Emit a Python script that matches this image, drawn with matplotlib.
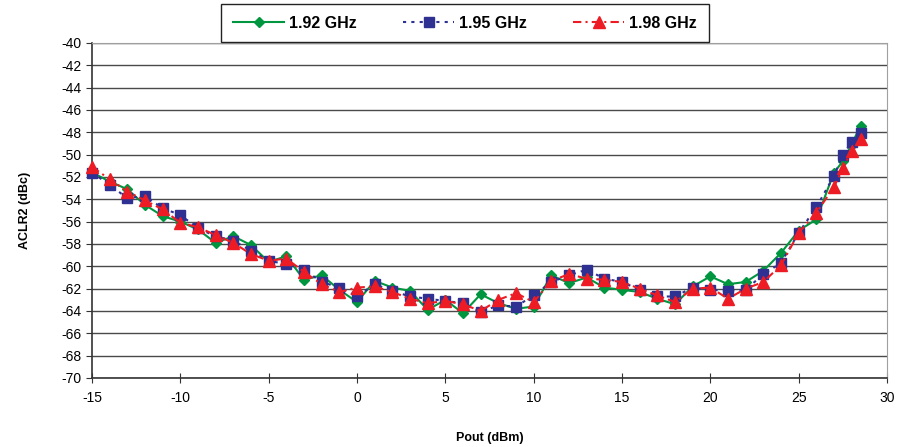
import matplotlib.pyplot as plt
import numpy as np

plt.rcParams['font.family'] = ['Liberation Sans', 'DejaVu Sans']
plt.rcParams['axes.unicode_minus'] = False

# Pout (dBm)
pout = [-15, -14, -13, -12, -11, -10, -9, -8, -7, -6, -5, -4, -3, -2, -1, 0,
        1, 2, 3, 4, 5, 6, 7, 8, 9, 10, 11, 12, 13, 14, 15, 16, 17, 18, 19, 20,
        21, 22, 23, 24, 25, 26, 27, 27.5, 28, 28.5]

# ACLR2 (dBc) per carrier frequency
aclr_192 = [-51.6, -52.4, -53.1, -54.5, -55.5, -56.0, -56.7, -57.9, -57.3, -58.1,
            -59.6, -59.1, -61.2, -60.8, -62.1, -63.2, -61.3, -61.9, -62.2, -63.9,
            -63.0, -64.2, -62.5, -63.3, -63.8, -63.6, -60.8, -61.5, -61.0, -61.9,
            -62.1, -62.3, -62.9, -63.4, -61.8, -60.9, -61.6, -61.4, -60.4, -58.8,
            -56.8, -55.8, -51.6, -50.6, -49.1, -47.4]
aclr_195 = [-51.6, -52.7, -53.9, -53.7, -54.8, -55.4, -56.6, -57.3, -57.7, -58.6,
            -59.5, -59.8, -60.3, -61.4, -61.9, -62.7, -61.6, -62.2, -62.7, -62.9,
            -63.1, -63.3, -64.1, -63.5, -63.6, -62.6, -61.4, -60.8, -60.3, -61.1,
            -61.4, -62.1, -62.7, -62.7, -61.9, -62.1, -62.2, -62.1, -60.7, -59.7,
            -57.0, -54.7, -51.9, -50.0, -48.9, -48.1]
aclr_198 = [-51.1, -52.2, -53.3, -54.1, -54.9, -56.1, -56.5, -57.2, -57.9, -58.9,
            -59.5, -59.3, -60.5, -61.6, -62.3, -61.9, -61.8, -62.3, -62.9, -63.3,
            -63.1, -63.4, -64.0, -63.0, -62.4, -63.2, -61.3, -60.7, -61.1, -61.2,
            -61.4, -62.0, -62.6, -63.2, -62.0, -61.9, -62.9, -62.0, -61.4, -59.9,
            -57.0, -55.2, -52.9, -51.2, -49.7, -48.6]

green = '#00963f'
blue = '#2e3192'
red = '#ed1c24'

fig = plt.figure(figsize=(9, 4.47), dpi=100)
ax = fig.add_axes([92 / 900, 1 - 378 / 447, 795 / 900, 335 / 447])

ax.plot(pout, aclr_192, color=green, lw=1.5, ls='-', marker='D', ms=5.5,
        mec=green, mfc=green, label='1.92 GHz', zorder=3, clip_on=False)
ax.plot(pout, aclr_195, color=blue, lw=1.5, ls=(0, (1.5, 2.5)), marker='s', ms=7,
        mec=blue, mfc=blue, label='1.95 GHz', zorder=4, clip_on=False)
ax.plot(pout, aclr_198, color=red, lw=1.5, ls=(0, (4, 2, 1, 2)), marker='^', ms=8,
        mec=red, mfc=red, label='1.98 GHz', zorder=5, clip_on=False)

ax.set_xlim(-15, 30)
ax.set_ylim(-70, -40)
ax.set_xticks(np.arange(-15, 31, 5))
ax.set_yticks(np.arange(-70, -39, 2))
ax.yaxis.grid(True, color='#4a4a4a', lw=1)
ax.set_axisbelow(True)

for s in ['top', 'right']:
    ax.spines[s].set_color('#a0a0a0')
for s in ['left', 'bottom']:
    ax.spines[s].set_color('#333333')
    ax.spines[s].set_linewidth(1.2)

ax.tick_params(axis='y', direction='out', length=4, labelsize=10, color='#333333')
ax.tick_params(axis='x', direction='inout', length=7, labelsize=10, color='#333333', pad=6)

ax.set_xlabel('Pout (dBm)', fontsize=9, fontweight='bold', labelpad=19)
ax.set_ylabel('ACLR2 (dBc)', fontsize=9, fontweight='bold', labelpad=22)

fig.legend(loc='center', bbox_to_anchor=(465 / 900, 1 - 23 / 447), ncol=3,
           frameon=True, fancybox=False, edgecolor='#222222', framealpha=1,
           prop={'size': 11.5, 'weight': 'bold'}, handlelength=3.2,
           columnspacing=2.9, handletextpad=0.3, borderpad=0.75)

fig.savefig('out.png', dpi=100)
